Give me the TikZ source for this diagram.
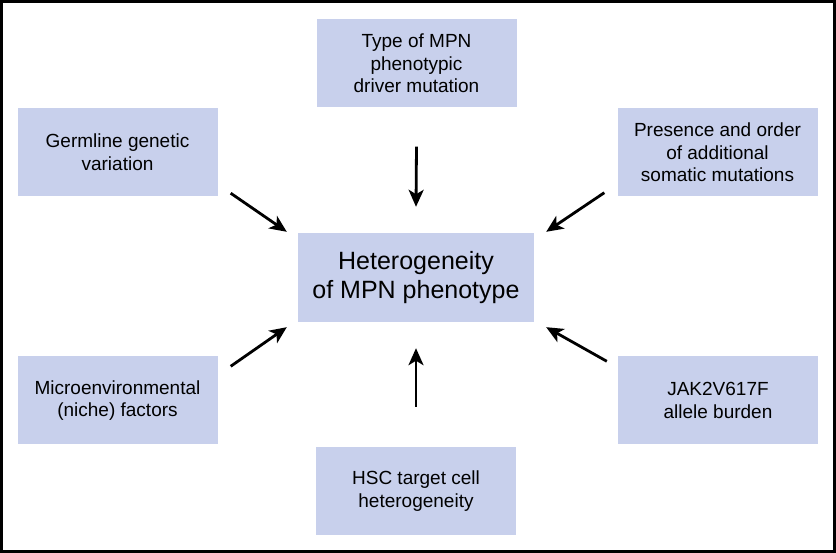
\documentclass[tikz,border=0pt]{standalone}
\usepackage{fontspec}
\setmainfont{Liberation Sans}
\usetikzlibrary{arrows.meta}
\definecolor{boxfill}{RGB}{200,208,236}

\tikzset{
  factor/.style={fill=boxfill, draw=none, minimum width=200pt, minimum height=88pt,
    inner sep=0pt, align=center, font=\fontsize{19}{22.5}\selectfont},
  core/.style={factor, minimum width=236pt, minimum height=89pt,
    font=\fontsize{25}{29}\selectfont},
  arr/.style={line width=2.8pt, -{Stealth[length=17pt,width=15pt,inset=4.5pt]}}
}

\begin{document}
\begin{tikzpicture}[x=1pt,y=-1pt]
	\useasboundingbox (0,0) rectangle (836,553);
	\draw[line width=3pt] (1.5,1.5) rectangle (834.5,551.5);

	% centre
	\node[core] (het) at (416,277.5) {Heterogeneity\\of MPN phenotype};

	% the six factors
	\node[factor] (type)  at (416.5,63.5) {Type of MPN\\phenotypic\\driver mutation};
	\node[factor] (germ)  at (117.5,152)  {Germline genetic\\variation};
	\node[factor] (pres)  at (717.5,152.5) {Presence and order\\of additional\\somatic mutations};
	\node[factor] (micro) at (117.5,400.5) {Microenvironmental\\(niche) factors};
	\node[factor] (jak)   at (718,400.5)  {JAK2V617F\\allele burden};
	\node[factor] (hsc)   at (416,491)    {HSC target cell\\heterogeneity};

	% arrows
	\draw[arr] ([shift={(0,39)}]type.south) -- ([shift={(0,-26)}]het.north);
	\draw[arr] ([shift={(13,-3)}]germ.south east) -- ([shift={(-11,-1)}]het.north west);
	\draw[arr] ([shift={(-13,-4)}]pres.south west) -- ([shift={(12,-1)}]het.north east);
	\draw[arr] ([shift={(13,10)}]micro.north east) -- ([shift={(-11,5)}]het.south west);
	\draw[arr] ([shift={(-11,5)}]jak.north west) -- ([shift={(12,5)}]het.south east);
	\draw[arr] ([shift={(0,-40)}]hsc.north) -- ([shift={(0,26)}]het.south);

\end{tikzpicture}
\end{document}
